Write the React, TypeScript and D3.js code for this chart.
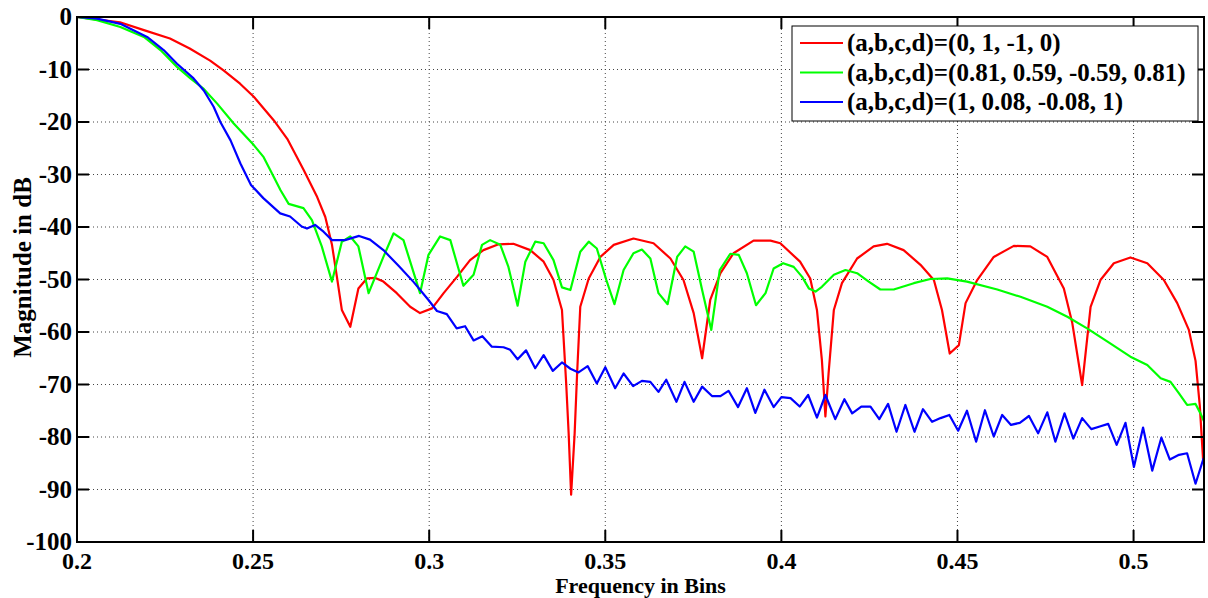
import React from "react";
import * as d3 from "d3";

const xTicks = [0.2, 0.25, 0.3, 0.35, 0.4, 0.45, 0.5];
const xTickLabels = ["0.2", "0.25", "0.3", "0.35", "0.4", "0.45", "0.5"];
const yTicks = [0, -10, -20, -30, -40, -50, -60, -70, -80, -90, -100];

const seriesNames = [
  "(a,b,c,d)=(0, 1, -1, 0)",
  "(a,b,c,d)=(0.81, 0.59, -0.59, 0.81)",
  "(a,b,c,d)=(1, 0.08, -0.08, 1)",
];
const seriesColors = ["#ff0000", "#00ff00", "#0000ff"];

const redData: [number, number][] = [
  [0.2, 0], [0.2037, -0.3], [0.2122, -1.0], [0.219, -2.5], [0.2264, -4.1], [0.232, -6.0], [0.2378, -8.3],
  [0.2417, -10.2], [0.2463, -12.7], [0.2502, -15.2], [0.2559, -19.7], [0.2597, -23.2], [0.2644, -29.2],
  [0.2682, -34.3], [0.2705, -38.1], [0.2724, -43.4], [0.2738, -49.5], [0.2752, -55.8], [0.2776, -59.0],
  [0.2799, -51.7], [0.2823, -49.8], [0.2847, -49.7], [0.287, -50.4], [0.2908, -52.6], [0.2946, -55.2],
  [0.2974, -56.4], [0.3008, -55.5], [0.3041, -52.6], [0.3079, -49.5], [0.3116, -46.3], [0.3154, -44.4],
  [0.3197, -43.3], [0.3239, -43.2], [0.3287, -44.4], [0.3325, -46.6], [0.3353, -50.1], [0.3377, -55.8],
  [0.3389, -69.8], [0.3396, -79.3], [0.3403, -91.0], [0.3413, -79.3], [0.342, -67.9], [0.3429, -55.2],
  [0.3453, -49.8], [0.3486, -45.7], [0.3524, -43.4], [0.358, -42.2], [0.3637, -43.1], [0.3685, -46],
  [0.3722, -50.1], [0.3751, -56.4], [0.3775, -65], [0.3798, -53.9], [0.3827, -48.8], [0.3864, -45],
  [0.3921, -42.6], [0.3969, -42.6], [0.3997, -43.1], [0.4053, -46.6], [0.4082, -49.8], [0.4101, -55.8],
  [0.4115, -65.3], [0.4125, -76.1], [0.4134, -67.9], [0.4149, -55.8], [0.4172, -50.7], [0.4215, -46],
  [0.4262, -43.7], [0.43, -43.2], [0.4347, -44.4], [0.4395, -47.2], [0.4433, -50.1], [0.4456, -55.8],
  [0.4478, -64.1], [0.4504, -62.5], [0.4523, -54.5], [0.4556, -50.1], [0.4603, -45.7], [0.466, -43.6],
  [0.4707, -43.7], [0.4755, -45.7], [0.4802, -51.7], [0.4826, -58.3], [0.4854, -70.1], [0.4878, -55.2],
  [0.4906, -50.1], [0.4944, -46.9], [0.4991, -45.8], [0.5039, -46.9], [0.5086, -50.1], [0.5124, -54.5],
  [0.5157, -59.6], [0.5176, -65.5], [0.5188, -74], [0.5198, -85],
];

const greenData: [number, number][] = [
  [0.2, 0], [0.2057, -0.6], [0.2123, -1.9], [0.219, -3.8], [0.2237, -6.3], [0.2284, -9.5], [0.2322, -11.7],
  [0.236, -13.7], [0.2398, -16.5], [0.2445, -20.3], [0.2502, -24.4], [0.253, -26.7], [0.2549, -29.2],
  [0.2578, -33], [0.2601, -35.6], [0.2643, -36.4], [0.2667, -38.7], [0.2695, -43.7], [0.2724, -50.4],
  [0.2752, -42.8], [0.2776, -41.8], [0.2799, -43.7], [0.2828, -52.6], [0.287, -45.7], [0.2899, -41.2],
  [0.2927, -42.5], [0.2974, -52.6], [0.2998, -45.3], [0.3031, -41.8], [0.306, -42.5], [0.3097, -51.2],
  [0.3126, -49.1], [0.315, -43.4], [0.3173, -42.5], [0.3202, -43.4], [0.3225, -47.6], [0.3251, -55],
  [0.3273, -46.6], [0.3301, -42.8], [0.3325, -43.1], [0.3353, -46.3], [0.3377, -51.5], [0.3401, -52],
  [0.3429, -44.7], [0.3453, -42.8], [0.3476, -44.1], [0.3503, -50.1], [0.3526, -54.7], [0.3552, -48.2],
  [0.358, -45], [0.3604, -44.3], [0.3628, -46], [0.3651, -52.6], [0.3677, -54.7], [0.3704, -45.7],
  [0.3727, -43.7], [0.3751, -44.7], [0.3775, -52], [0.3801, -59.6], [0.3825, -48.2], [0.3855, -45.1],
  [0.3879, -45.3], [0.3902, -48.8], [0.3928, -54.9], [0.3955, -52.6], [0.3978, -47.9], [0.4005, -46.9],
  [0.4035, -47.6], [0.4059, -49.5], [0.4078, -51.7], [0.4097, -52.3], [0.4115, -51.4], [0.4149, -49.1],
  [0.4182, -48.2], [0.4215, -48.8], [0.4248, -50.4], [0.4281, -51.9], [0.4319, -51.9], [0.4376, -50.7],
  [0.4423, -49.9], [0.4471, -49.8], [0.4527, -50.4], [0.4613, -51.9], [0.4679, -53.3], [0.4755, -55.2],
  [0.4812, -57.1], [0.4868, -59.3], [0.4925, -61.8], [0.4991, -64.7], [0.5039, -66.3], [0.5077, -68.8],
  [0.5105, -69.5], [0.5129, -71.7], [0.5152, -73.9], [0.5176, -73.7], [0.519, -75.5], [0.52, -77],
];

const blueData: [number, number][] = [
  [0.2, 0], [0.2057, -0.3], [0.2123, -1.3], [0.2199, -3.8], [0.2246, -6.3], [0.2284, -8.9], [0.2331, -11.7],
  [0.236, -14], [0.2388, -17.1], [0.2407, -20], [0.2436, -23.5], [0.2464, -27.9], [0.2494, -32],
  [0.2529, -34.5], [0.2577, -37.4], [0.2605, -38], [0.2638, -39.9], [0.2653, -40.3], [0.2676, -39.6],
  [0.27, -40.9], [0.2724, -42.5], [0.2761, -42.5], [0.2801, -41.7], [0.2832, -42.4], [0.287, -44.4],
  [0.2913, -47.4], [0.2956, -50.5], [0.2998, -53.9], [0.3022, -56], [0.305, -56.6], [0.3078, -59.3],
  [0.3102, -58.9], [0.3126, -61.6], [0.3151, -60.8], [0.3178, -62.8], [0.3211, -62.9], [0.323, -63.4],
  [0.3251, -65.2], [0.3275, -63.5], [0.3301, -66.9], [0.3325, -64.4], [0.3351, -67.4], [0.3377, -65.8],
  [0.3401, -67.0], [0.3424, -67.7], [0.345, -66.5], [0.3476, -69.8], [0.35, -66.7], [0.3528, -70.7],
  [0.3552, -67.9], [0.3579, -70.3], [0.3604, -69.3], [0.3628, -69.5], [0.3651, -71.4], [0.3673, -69.1],
  [0.3702, -73.3], [0.3725, -69.5], [0.3751, -73.3], [0.3775, -70.4], [0.3803, -72.2], [0.3827, -72.2],
  [0.385, -71.2], [0.3877, -74.3], [0.3902, -70.7], [0.3926, -75.4], [0.3952, -71], [0.3978, -74.3],
  [0.4, -72.4], [0.4026, -72.6], [0.4052, -74.2], [0.4076, -72], [0.4101, -76.3], [0.4125, -72],
  [0.4153, -76.6], [0.4179, -72.8], [0.4201, -75.5], [0.4227, -74.2], [0.4253, -74.2], [0.4278, -76.6],
  [0.4303, -73.7], [0.4327, -79], [0.4352, -73.9], [0.4378, -79], [0.4402, -74.7], [0.4428, -77.1],
  [0.4452, -76.4], [0.4477, -75.8], [0.4502, -78.8], [0.4527, -75], [0.4553, -80.9], [0.4578, -74.9],
  [0.4603, -79.9], [0.4627, -75.8], [0.4652, -77.7], [0.4677, -77.3], [0.4703, -76], [0.4729, -79.3],
  [0.4755, -75.3], [0.4778, -80.9], [0.4804, -75.5], [0.4829, -80.3], [0.4854, -76.4], [0.488, -78.5],
  [0.4904, -78], [0.4928, -77.5], [0.4952, -81.5], [0.4977, -77.3], [0.5001, -85.7], [0.5027, -78.2],
  [0.5053, -86.4], [0.5079, -80.1], [0.5103, -84.3], [0.5129, -83.4], [0.5152, -83.1], [0.5176, -88.9],
  [0.5199, -84],
];

const allSeries = [redData, greenData, blueData];

const W = 1208;
const H = 598;
const left = 77;
const right = 1204;
const top = 17;
const bottom = 542;
const FONT = "'Liberation Serif', 'Times New Roman', serif";

export default function App() {
  const x = d3.scaleLinear().domain([0.2, 0.52]).range([left, right]);
  const y = d3.scaleLinear().domain([-100, 0]).range([bottom, top]);
  const line = d3
    .line<[number, number]>()
    .x((d) => x(d[0]))
    .y((d) => y(d[1]))
    .curve(d3.curveLinear);

  const tickLen = 12;
  const legX = 792;
  const legY = 26;
  const legW = 406;
  const legH = 95;
  const rowH = 29.5;

  return (
    <svg
      width={W}
      height={H}
      style={{ position: "absolute", left: 0, top: 0, background: "#fff" }}
      fontFamily={FONT}
    >
      <rect x={0} y={0} width={W} height={H} fill="#fff" />
      <defs>
        <clipPath id="plotclip">
          <rect x={left} y={top - 2} width={right - left + 2} height={bottom - top + 4} />
        </clipPath>
      </defs>
      {/* grid */}
      <g stroke="#444" strokeWidth={1} strokeDasharray="1,3">
        {xTicks
          .filter((t) => t > 0.2)
          .map((t) => (
            <line key={"gx" + t} x1={x(t)} x2={x(t)} y1={top} y2={bottom} />
          ))}
        {yTicks
          .filter((t) => t < 0 && t > -100)
          .map((t) => (
            <line key={"gy" + t} x1={left} x2={right} y1={y(t)} y2={y(t)} />
          ))}
      </g>
      {/* series */}
      <g clipPath="url(#plotclip)" fill="none" strokeWidth={2.2} strokeLinejoin="round">
        {allSeries.map((s, i) => (
          <path key={i} d={line(s) || ""} stroke={seriesColors[i]} />
        ))}
      </g>
      {/* axes box */}
      <rect x={left} y={top} width={right - left} height={bottom - top} fill="none" stroke="#000" strokeWidth={2} />
      {/* ticks */}
      <g stroke="#000" strokeWidth={2}>
        {xTicks.map((t) => (
          <g key={"tx" + t}>
            <line x1={x(t)} x2={x(t)} y1={bottom} y2={bottom - tickLen} />
            <line x1={x(t)} x2={x(t)} y1={top} y2={top + tickLen} />
          </g>
        ))}
        {yTicks.map((t) => (
          <g key={"ty" + t}>
            <line x1={left} x2={left + tickLen} y1={y(t)} y2={y(t)} />
            <line x1={right} x2={right - tickLen} y1={y(t)} y2={y(t)} />
          </g>
        ))}
      </g>
      {/* tick labels */}
      <g fontWeight="bold" fill="#000">
        {xTicks.map((t, i) => (
          <text key={"lx" + t} x={x(t)} y={568.5} textAnchor="middle" fontSize={24}>
            {xTickLabels[i]}
          </text>
        ))}
        {yTicks.map((t) => (
          <text key={"ly" + t} x={left - 5} y={y(t) + 8} textAnchor="end" fontSize={25}>
            {String(t)}
          </text>
        ))}
      </g>
      {/* axis titles */}
      <text x={(left + right) / 2} y={593.3} textAnchor="middle" fontSize={22} fontWeight="bold">
        Frequency in Bins
      </text>
      <text
        transform={`translate(31, ${(top + bottom) / 2 - 12}) rotate(-90)`}
        textAnchor="middle"
        fontSize={25}
        fontWeight="bold"
      >
        Magnitude in dB
      </text>
      {/* legend */}
      <rect x={legX} y={legY} width={legW} height={legH} fill="#fff" stroke="#000" strokeWidth={1} />
      {seriesNames.map((n, i) => {
        const cy = legY + 17 + i * rowH;
        return (
          <g key={"leg" + i}>
            <line x1={800} x2={843} y1={cy} y2={cy} stroke={seriesColors[i]} strokeWidth={2} />
            <text x={847} y={cy + 8} fontSize={25} fontWeight="bold">
              {n}
            </text>
          </g>
        );
      })}
    </svg>
  );
}
